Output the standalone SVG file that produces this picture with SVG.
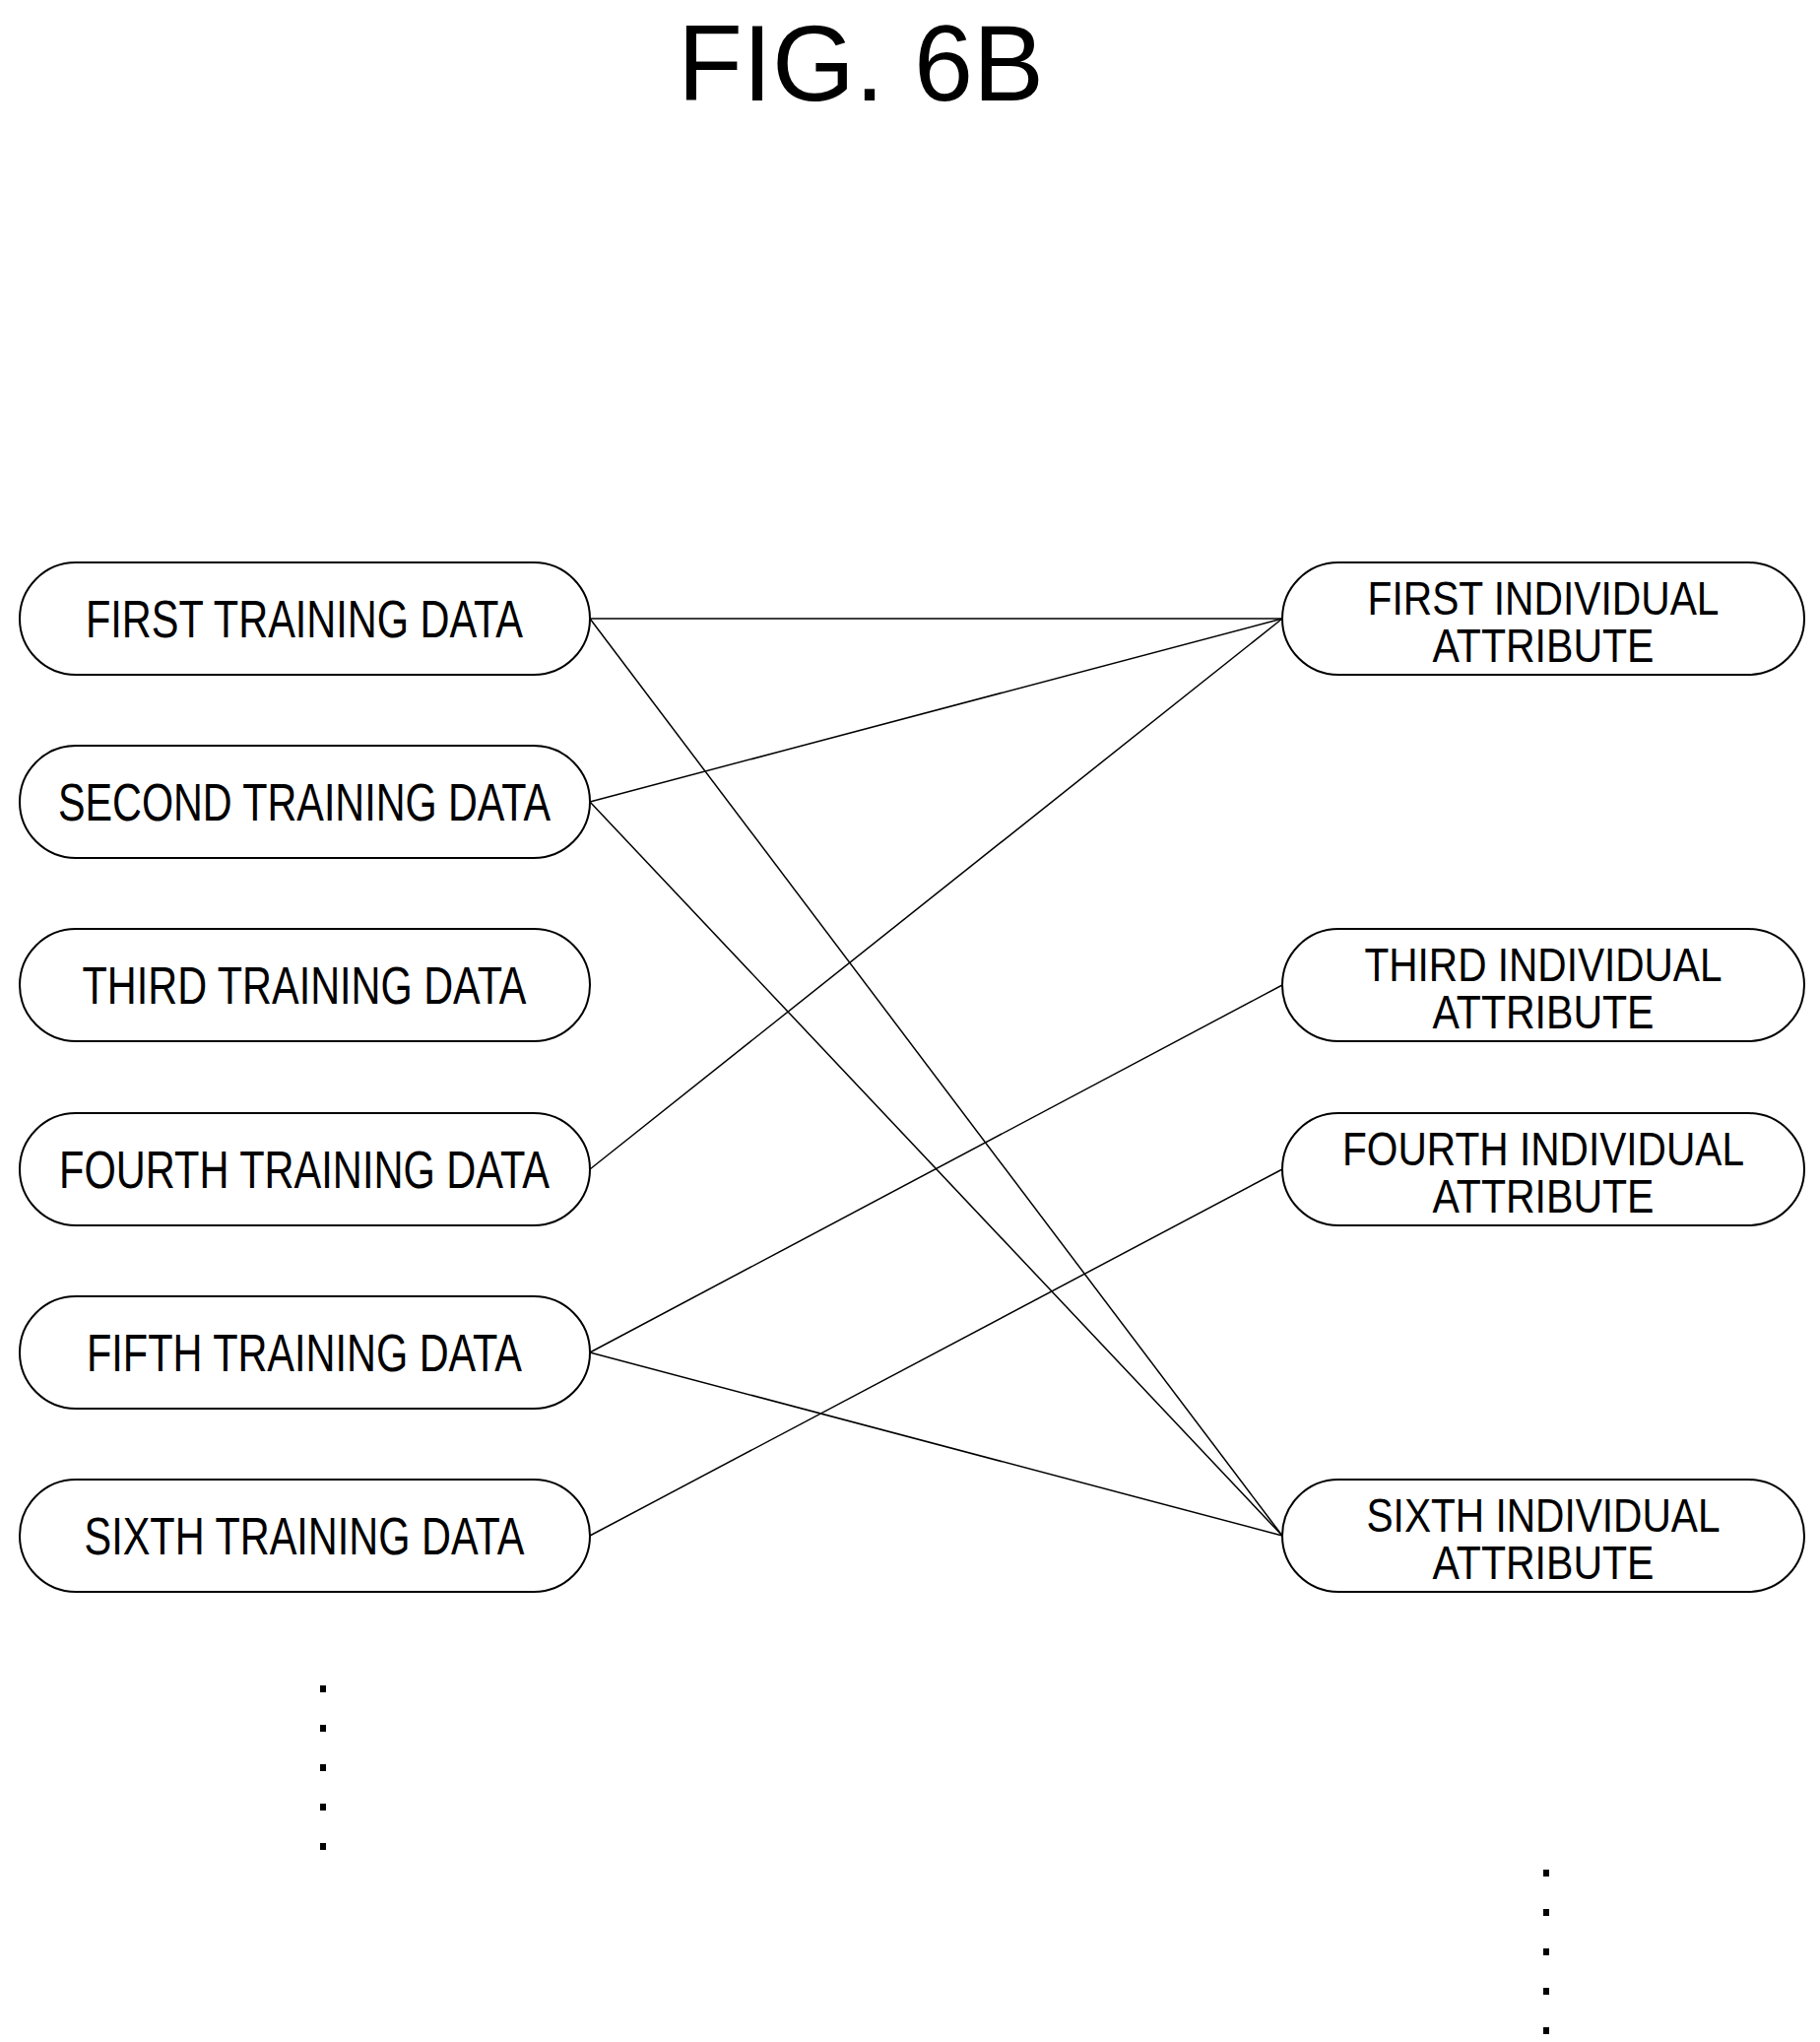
<svg xmlns="http://www.w3.org/2000/svg" width="1848" height="2073" viewBox="0 0 1848 2073">
<style>
.box{fill:#fff;stroke:#000;stroke-width:2}
.t{font-family:"Liberation Sans",Arial,sans-serif;font-size:54px;fill:#000;text-anchor:middle}
.r{font-size:48px}
.c line{stroke:#000;stroke-width:1.5}
.d rect{fill:#000}
</style>
<rect width="1848" height="2073" fill="#fff"/>
<text x="874" y="102" style="font-family:'Liberation Sans',Arial,sans-serif;font-size:110px;text-anchor:middle" textLength="372" lengthAdjust="spacingAndGlyphs">FIG. 6B</text>
<g class="c" id="connectors">
<line x1="599" y1="628" x2="1302" y2="628"/>
<line x1="599" y1="628" x2="1302" y2="1559"/>
<line x1="599" y1="814" x2="1302" y2="628"/>
<line x1="599" y1="814" x2="1302" y2="1559"/>
<line x1="599" y1="1187" x2="1302" y2="628"/>
<line x1="599" y1="1373" x2="1302" y2="1000"/>
<line x1="599" y1="1373" x2="1302" y2="1559"/>
<line x1="599" y1="1559" x2="1302" y2="1187"/>
</g>
<g id="L1"><rect class="box" x="20" y="571" width="579" height="114" rx="57"/><text class="t" x="309" y="647" textLength="444" lengthAdjust="spacingAndGlyphs">FIRST TRAINING DATA</text></g>
<g id="L2"><rect class="box" x="20" y="757" width="579" height="114" rx="57"/><text class="t" x="309" y="833" textLength="500" lengthAdjust="spacingAndGlyphs">SECOND TRAINING DATA</text></g>
<g id="L3"><rect class="box" x="20" y="943" width="579" height="114" rx="57"/><text class="t" x="309" y="1019" textLength="451" lengthAdjust="spacingAndGlyphs">THIRD TRAINING DATA</text></g>
<g id="L4"><rect class="box" x="20" y="1130" width="579" height="114" rx="57"/><text class="t" x="309" y="1206" textLength="498" lengthAdjust="spacingAndGlyphs">FOURTH TRAINING DATA</text></g>
<g id="L5"><rect class="box" x="20" y="1316" width="579" height="114" rx="57"/><text class="t" x="309" y="1392" textLength="442" lengthAdjust="spacingAndGlyphs">FIFTH TRAINING DATA</text></g>
<g id="L6"><rect class="box" x="20" y="1502" width="579" height="114" rx="57"/><text class="t" x="309" y="1578" textLength="447" lengthAdjust="spacingAndGlyphs">SIXTH TRAINING DATA</text></g>
<g id="R1"><rect class="box" x="1302" y="571" width="530" height="114" rx="57"/><text class="t r" x="1567" y="624" textLength="357" lengthAdjust="spacingAndGlyphs">FIRST INDIVIDUAL</text><text class="t r" x="1567" y="672" textLength="225" lengthAdjust="spacingAndGlyphs">ATTRIBUTE</text></g>
<g id="R3"><rect class="box" x="1302" y="943" width="530" height="114" rx="57"/><text class="t r" x="1567" y="996" textLength="363" lengthAdjust="spacingAndGlyphs">THIRD INDIVIDUAL</text><text class="t r" x="1567" y="1044" textLength="225" lengthAdjust="spacingAndGlyphs">ATTRIBUTE</text></g>
<g id="R4"><rect class="box" x="1302" y="1130" width="530" height="114" rx="57"/><text class="t r" x="1567" y="1183" textLength="408" lengthAdjust="spacingAndGlyphs">FOURTH INDIVIDUAL</text><text class="t r" x="1567" y="1231" textLength="225" lengthAdjust="spacingAndGlyphs">ATTRIBUTE</text></g>
<g id="R6"><rect class="box" x="1302" y="1502" width="530" height="114" rx="57"/><text class="t r" x="1567" y="1555" textLength="359" lengthAdjust="spacingAndGlyphs">SIXTH INDIVIDUAL</text><text class="t r" x="1567" y="1603" textLength="225" lengthAdjust="spacingAndGlyphs">ATTRIBUTE</text></g>
<g class="d">
<rect x="325" y="1711" width="6" height="7"/><rect x="325" y="1751" width="6" height="7"/><rect x="325" y="1791" width="6" height="7"/><rect x="325" y="1831" width="6" height="7"/><rect x="325" y="1871" width="6" height="7"/>
<rect x="1567" y="1898" width="6" height="7"/><rect x="1567" y="1938" width="6" height="7"/><rect x="1567" y="1978" width="6" height="7"/><rect x="1567" y="2018" width="6" height="7"/><rect x="1567" y="2058" width="6" height="7"/>
</g>
</svg>
